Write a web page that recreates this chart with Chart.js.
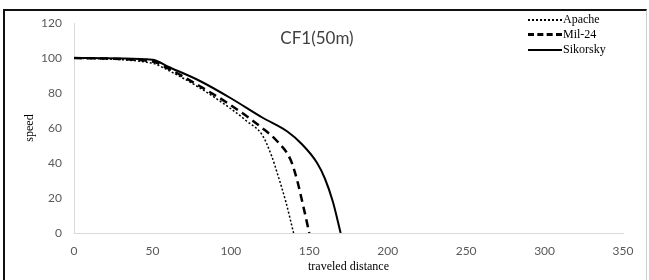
<!DOCTYPE html>
<html>
<head>
<meta charset="utf-8">
<script src="https://cdn.jsdelivr.net/npm/chart.js@4"></script>
<style>
  body { margin: 0; background: #fff; }
  #wrap { position: relative; width: 649px; height: 280px; }
  #frame { position: absolute; left: 3px; top: 9px; width: 644px; height: 272px;
           border-top: 2px solid #111; border-left: 2px solid #111; border-right: 1px solid #ccc;
           box-sizing: border-box; pointer-events: none; }
  #title { position: absolute; left: 0; width: 634px; top: 27px; text-align: center;
           font: 17px Lato, sans-serif; color: #404040; }
  .leg { position: absolute; left: 528px; font: 12px "Liberation Serif", serif; color: #000;
         display: flex; align-items: center; }
  .leg span.s { display: inline-block; width: 34px; margin-right: 1px; }
</style>
</head>
<body>
<div id="wrap">
  <canvas id="speedChart" width="649" height="280"></canvas>
  <div id="frame"></div>
  <div id="title">CF1(50m)</div>
  <div class="leg" style="top:12px"><span class="s" style="border-top:2px dotted #000"></span>Apache</div>
  <div class="leg" style="top:27px"><span class="s" style="border-top:3px dashed #000"></span>Mil-24</div>
  <div class="leg" style="top:42px"><span class="s" style="border-top:2px solid #000"></span>Sikorsky</div>
</div>
<script>
// values
const apacheX = [0, 50, 60, 80, 100, 110, 120, 126, 130, 135, 140];
const apacheY = [100, 97, 93, 83, 71, 64, 56, 44, 33, 18, 0];
const milX = [0, 50, 60, 80, 100, 120, 130, 138, 142, 146, 150];
const milY = [100, 98, 94, 84, 73, 60, 52, 42, 31, 16, 0];
const sikorskyX = [0, 50, 60, 80, 100, 120, 136, 145, 155, 160, 165, 170];
const sikorskyY = [100, 99, 95, 87, 77, 66, 58, 51, 40, 31, 18, 0];

const pts = (xs, ys) => xs.map((x, i) => ({ x: x, y: ys[i] }));

const ctx = document.getElementById("speedChart").getContext("2d");
const speedChart = new Chart(ctx, {
  type: "line",
  data: {
    datasets: [
      {
        label: "Apache",
        data: pts(apacheX, apacheY),
        borderColor: "#000",
        borderWidth: 1.5,
        borderDash: [2, 2],
      },
      {
        label: "Mil-24",
        data: pts(milX, milY),
        borderColor: "#000",
        borderWidth: 2.5,
        borderDash: [8, 5],
      },
      {
        label: "Sikorsky",
        data: pts(sikorskyX, sikorskyY),
        borderColor: "#000",
        borderWidth: 2,
      },
    ],
  },
  options: {
    responsive: false,
    animation: false,
    layout: { padding: { left: 23, right: 26, top: 23, bottom: 0 } },
    elements: { point: { radius: 0 }, line: { cubicInterpolationMode: "monotone" } },
    plugins: { legend: { display: false }, tooltip: { enabled: false } },
    scales: {
      x: {
        type: "linear",
        min: 0,
        max: 350,
        ticks: { stepSize: 50, color: "#595959", font: { family: "Lato", size: 12 }, padding: 11 },
        grid: { display: false, drawTicks: false },
        border: { color: "#d9d9d9" },
        title: { display: true, text: "traveled distance", color: "#000",
                 font: { family: "Liberation Serif", size: 12 }, padding: { top: 0, bottom: 6 } },
        afterFit: (s) => { s.height = 47; },
      },
      y: {
        min: 0,
        max: 120,
        ticks: { stepSize: 20, color: "#595959", font: { family: "Lato", size: 12 }, padding: 12 },
        grid: { display: false, drawTicks: false },
        border: { color: "#d9d9d9" },
        title: { display: true, text: "speed", color: "#000",
                 font: { family: "Liberation Serif", size: 12 }, padding: 0 },
        afterFit: (s) => { s.width = 51; },
      },
    },
  },
});
</script>
</body>
</html>
